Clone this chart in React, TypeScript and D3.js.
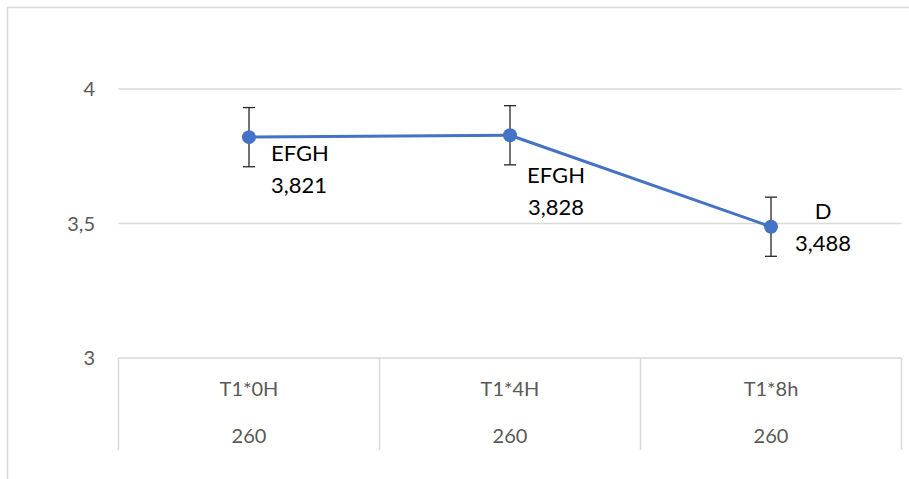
//@ts-nocheck
import * as d3 from "d3";
import React, { useEffect, useRef } from "react";

const categories = ["T1*0H", "T1*4H", "T1*8h"];
const counts = [260, 260, 260];
const means = [3.821, 3.828, 3.488];
const errors = [0.11, 0.11, 0.11];
const letters = ["EFGH", "EFGH", "D"];
const yTicks = [3, 3.5, 4];

// where Excel dropped each data label relative to its point
const labelPos = [
  { anchor: "start", dx: 22, dy: 24 },
  { anchor: "middle", dx: 46, dy: 48 },
  { anchor: "middle", dx: 52, dy: -8 },
];

const blue = "#4472C4";
const grid = "#d9d9d9";
const textGrey = "#595959";
const font = "Lato, 'Open Sans', sans-serif";

const locale = d3.formatLocale({
  decimal: ",",
  thousands: ".",
  grouping: [3],
  currency: ["", " €"],
});
const fmtValue = locale.format(".3f");
const fmtTick = locale.format(".1~f");

const draw = (svgEl) => {
  const width = 909;
  const height = 479;
  const svg = d3.select(svgEl);
  svg.selectAll("*").remove();

  svg
    .append("rect")
    .attr("x", 7.5)
    .attr("y", 7.5)
    .attr("width", width + 10)
    .attr("height", height + 10)
    .attr("fill", "#fff")
    .attr("stroke", grid)
    .attr("stroke-width", 1.5);

  const x = d3.scaleBand().domain(categories).range([118.5, 901.5]);
  const y = d3.scaleLinear().domain([3, 4]).range([358, 89]);

  // gridlines (baseline drawn with the table)
  svg
    .append("g")
    .selectAll("line")
    .data(yTicks.filter((t) => t !== 3))
    .join("line")
    .attr("x1", x.range()[0])
    .attr("x2", x.range()[1])
    .attr("y1", (d) => y(d))
    .attr("y2", (d) => y(d))
    .attr("stroke", grid)
    .attr("stroke-width", 1.5);

  svg
    .append("g")
    .selectAll("text")
    .data(yTicks)
    .join("text")
    .attr("x", 95)
    .attr("y", (d) => y(d))
    .attr("dy", "0.36em")
    .attr("text-anchor", "end")
    .attr("font-family", font)
    .attr("font-size", 20)
    .attr("fill", textGrey)
    .text((d) => fmtTick(d));

  // category table under the axis
  const tableBottom = 450;
  const table = svg.append("g").attr("stroke", grid).attr("stroke-width", 1.5);
  table
    .append("line")
    .attr("x1", x.range()[0])
    .attr("x2", x.range()[1])
    .attr("y1", y(3))
    .attr("y2", y(3));
  table
    .selectAll("line.sep")
    .data([...categories.map((c) => x(c)), x.range()[1]])
    .join("line")
    .attr("class", "sep")
    .attr("x1", (d) => d)
    .attr("x2", (d) => d)
    .attr("y1", y(3))
    .attr("y2", tableBottom);

  const cat = svg
    .append("g")
    .attr("font-family", font)
    .attr("font-size", 20)
    .attr("fill", textGrey)
    .attr("text-anchor", "middle");
  cat
    .selectAll("text.name")
    .data(categories)
    .join("text")
    .attr("class", "name")
    .attr("x", (d) => x(d) + x.bandwidth() / 2)
    .attr("y", 396)
    .text((d) => d);
  cat
    .selectAll("text.n")
    .data(counts)
    .join("text")
    .attr("class", "n")
    .attr("x", (d, i) => x(categories[i]) + x.bandwidth() / 2)
    .attr("y", 443)
    .text((d) => d);

  const px = (i) => x(categories[i]) + x.bandwidth() / 2;

  // error bars
  const eb = svg.append("g").attr("stroke", "#262626").attr("stroke-width", 1.3);
  means.forEach((m, i) => {
    const cx = px(i);
    const top = y(m + errors[i]);
    const bot = y(m - errors[i]);
    eb.append("line").attr("x1", cx).attr("x2", cx).attr("y1", top).attr("y2", bot);
    eb.append("line").attr("x1", cx - 6).attr("x2", cx + 6).attr("y1", top).attr("y2", top);
    eb.append("line").attr("x1", cx - 6).attr("x2", cx + 6).attr("y1", bot).attr("y2", bot);
  });

  const line = d3
    .line()
    .x((d, i) => px(i))
    .y((d) => y(d));

  svg
    .append("path")
    .datum(means)
    .attr("d", line)
    .attr("fill", "none")
    .attr("stroke", blue)
    .attr("stroke-width", 3)
    .attr("stroke-linejoin", "round");

  svg
    .append("g")
    .selectAll("circle")
    .data(means)
    .join("circle")
    .attr("cx", (d, i) => px(i))
    .attr("cy", (d) => y(d))
    .attr("r", 7)
    .attr("fill", blue);

  // data labels: letter group + mean
  const labels = svg
    .append("g")
    .attr("font-family", font)
    .attr("font-size", 22)
    .attr("fill", "#000");
  means.forEach((m, i) => {
    const p = labelPos[i];
    const t = labels
      .append("text")
      .attr("text-anchor", p.anchor)
      .attr("x", px(i) + p.dx)
      .attr("y", y(m) + p.dy);
    t.append("tspan").attr("x", px(i) + p.dx).text(letters[i]);
    t.append("tspan").attr("x", px(i) + p.dx).attr("dy", 32).text(fmtValue(m));
  });
};

export default function App() {
  const ref = useRef(null);

  useEffect(() => {
    if (ref.current) draw(ref.current);
  }, []);

  return (
    <svg
      ref={ref}
      width={909}
      height={479}
      style={{ position: "absolute", left: 0, top: 0, background: "#fff" }}
    />
  );
}
